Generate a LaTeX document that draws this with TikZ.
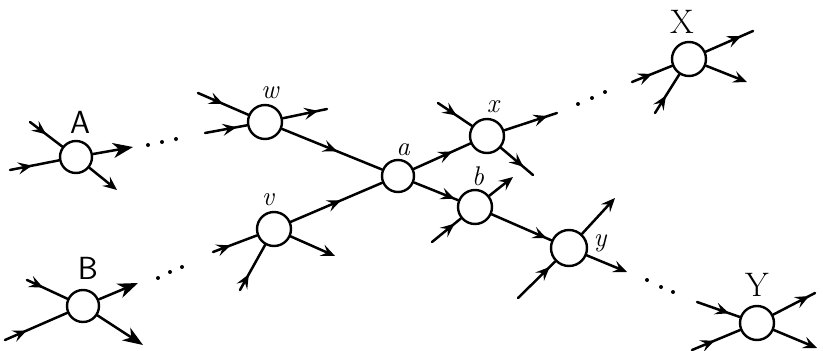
\documentclass[tikz,border=0pt]{standalone}
\usepackage{fontspec}
\usetikzlibrary{arrows.meta,decorations.markings}
\begin{document}
\begin{tikzpicture}[x=1pt,y=-1pt,
  nd/.style={circle,draw,line width=2.4pt,minimum size=34pt,inner sep=0pt,fill=white},
  edge/.style={line width=2.5pt,line cap=round},
  am/.style={postaction={decorate},decoration={markings,mark=at position #1 with {\arrow{Stealth[length=14pt,width=12pt,inset=5.5pt]}}}},
  ea/.style={-{Stealth[length=14pt,width=12pt,inset=5.5pt]}},
  big/.style={-{Stealth[length=20pt,width=15pt,inset=6pt]}},
  lab/.style={font=\fontsize{27}{29}\selectfont\itshape},
  bigl/.style={font=\fontsize{34}{36}\selectfont},
  bigs/.style={font=\fontsize{32}{34}\selectfont\sffamily},
  dotc/.style={circle,fill,inner sep=0pt,minimum size=4pt}]
\useasboundingbox (0,0) rectangle (823,351);
% nodes
\node[nd,minimum size=32pt] (A) at (76,157) {};
\node[nd,minimum size=32pt] (B) at (83,306) {};
\node[nd] (w) at (265,122) {};
\node[nd] (v) at (274,229) {};
\node[nd,minimum size=32pt] (a) at (398,176) {};
\node[nd] (x) at (487,136) {};
\node[nd] (b) at (475,207) {};
\node[nd,minimum size=36pt] (y) at (569,248) {};
\node[nd] (X) at (689,59) {};
\node[nd] (Y) at (757,323) {};
% labels
\node[bigs] (lA) at (80,122) {A};
\node[bigs] (lB) at (88,268) {B};
\node[lab] (lw) at (270,93) {w};
\node[lab] (lv) at (268,200) {v};
\node[lab] (la) at (403,150) {a};
\node[lab] (lx) at (493,107) {x};
\node[lab] (lb) at (478,176) {b};
\node[lab] (ly) at (600,243) {y};
\node[bigl] (lX) at (682,22) {X};
\node[bigl] (lY) at (757,285) {Y};
% free ends
\coordinate (A1) at (30,122); \coordinate (A2) at (10,170);
\coordinate (A3) at (133,147); \coordinate (A4) at (117,190);
\coordinate (B1) at (27,280); \coordinate (B2) at (5,340);
\coordinate (B3) at (138,283); \coordinate (B4) at (143,345);
\coordinate (w1) at (198,93); \coordinate (w2) at (205,133); \coordinate (w3) at (327,109);
\coordinate (v1) at (213,252); \coordinate (v2) at (240,290); \coordinate (v3) at (335,256);
\coordinate (x1) at (438,103); \coordinate (x2) at (557,113); \coordinate (x3) at (533,175);
\coordinate (b1) at (432,242); \coordinate (b2) at (513,177);
\coordinate (y1) at (518,298); \coordinate (y2) at (615,198); \coordinate (y3) at (627,272);
\coordinate (X1) at (632,82); \coordinate (X2) at (655,113); \coordinate (X3) at (753,31); \coordinate (X4) at (747,82);
\coordinate (Y1) at (697,302); \coordinate (Y2) at (692,350); \coordinate (Y3) at (815,293); \coordinate (Y4) at (817,348);
% A
\draw[edge,am=0.5] (A1) -- (A);
\draw[edge,am=0.45] (A2) -- (A);
\draw[edge,big] (A) -- (A3);
\draw[edge,ea] (A) -- (A4);
% B
\draw[edge,am=0.4] (B1) -- (B);
\draw[edge,am=0.35] (B2) -- (B);
\draw[edge,big] (B) -- (B3);
\draw[edge,big] (B) -- (B4);
% w
\draw[edge,am=0.5] (w1) -- (w);
\draw[edge,am=0.75] (w2) -- (w);
\draw[edge,am=0.8] (w) -- (w3);
\draw[edge,am=0.55] (w) -- (a);
% v
\draw[edge,am=0.55] (v) -- (a);
\draw[edge,ea] (v) -- (v3);
\draw[edge,am=0.4] (v1) -- (v);
\draw[edge,am=0.35] (v2) -- (v);
% a
\draw[edge,am=0.68] (a) -- (x);
\draw[edge,am=0.92] (a) -- (b);
% x
\draw[edge,am=0.55] (x1) -- (x);
\draw[edge,am=0.82] (x) -- (x2);
\draw[edge,am=0.7] (x) -- (x3);
% b
\draw[edge,ea] (b) -- (b2);
\draw[edge,am=0.78] (b1) -- (b);
\draw[edge,am=0.92] (b) -- (y);
% y
\draw[edge,ea] (y) -- (y2);
\draw[edge,ea] (y) -- (y3);
\draw[edge,am=0.85] (y1) -- (y);
% X
\draw[edge,am=0.5] (X1) -- (X);
\draw[edge,am=0.45] (X2) -- (X);
\draw[edge,am=0.75] (X) -- (X3);
\draw[edge,ea] (X) -- (X4);
% Y
\draw[edge,am=0.75] (Y1) -- (Y);
\draw[edge,am=0.47] (Y2) -- (Y);
\draw[edge,am=0.86] (Y) -- (Y3);
\draw[edge,ea] (Y) -- (Y4);
% dots
\foreach \p [count=\i] in {(148,145),(162,142),(176,139),(158,278),(170,272),(182,267),(578,104),(592,98),(605,92),(647,280),(661,287),(673,292)}
  \node[dotc] (d\i) at \p {};
\end{tikzpicture}
\end{document}
